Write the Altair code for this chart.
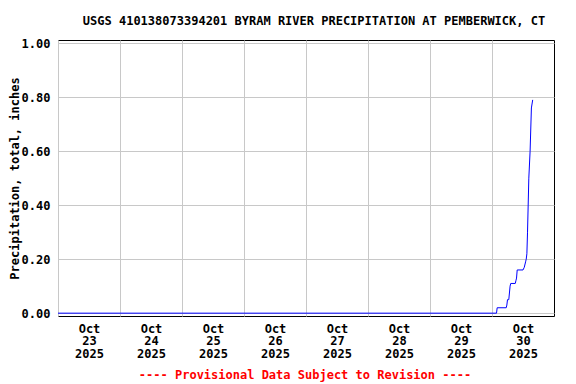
import altair as alt
import pandas as pd

times = [
    "2025-10-23T00:00:00Z", "2025-10-30T01:45:00Z", "2025-10-30T02:00:00Z",
    "2025-10-30T05:30:00Z", "2025-10-30T05:45:00Z", "2025-10-30T06:00:00Z",
    "2025-10-30T06:30:00Z", "2025-10-30T07:00:00Z", "2025-10-30T07:15:00Z",
    "2025-10-30T09:00:00Z", "2025-10-30T09:15:00Z", "2025-10-30T09:30:00Z",
    "2025-10-30T09:45:00Z", "2025-10-30T12:00:00Z", "2025-10-30T12:30:00Z",
    "2025-10-30T13:00:00Z", "2025-10-30T13:15:00Z", "2025-10-30T13:30:00Z",
    "2025-10-30T13:45:00Z", "2025-10-30T14:15:00Z", "2025-10-30T14:45:00Z",
    "2025-10-30T15:15:00Z", "2025-10-30T15:45:00Z",
]
values = [
    0.00, 0.00, 0.02,
    0.02, 0.03, 0.05,
    0.05, 0.10, 0.11,
    0.11, 0.12, 0.13,
    0.16, 0.16, 0.17,
    0.19, 0.20, 0.22,
    0.30, 0.50, 0.60,
    0.76, 0.79,
]
y_ticks = [0.0, 0.2, 0.4, 0.6, 0.8, 1.0]
day_ticks = [23, 24, 25, 26, 27, 28, 29, 30]

title_text = "USGS 410138073394201 BYRAM RIVER PRECIPITATION AT PEMBERWICK, CT"
footer_text = "---- Provisional Data Subject to Revision ----"
y_title = "Precipitation, total, inches"

df = pd.DataFrame({"t": times, "v": values})
FONT = "DejaVu Sans Mono"
FS = 12

x_enc = alt.X(
    "t:T",
    scale=alt.Scale(
        type="utc",
        domain=[alt.DateTime(year=2025, month=10, date=23, utc=True),
                alt.DateTime(year=2025, month=10, date=31, utc=True)],
    ),
    axis=alt.Axis(
        title=None,
        values=[alt.DateTime(year=2025, month=10, date=d, utc=True) for d in day_ticks],
        labelExpr="[utcFormat(datum.value, '%b'), utcFormat(datum.value, '%d'), utcFormat(datum.value, '%Y')]",
        labelOffset=31,
        labelBaseline="top",
        labelPadding=7,
        labelLineHeight=12.5,
        labelFont=FONT,
        labelFontWeight="bold",
        labelFontSize=FS,
        labelColor="black",
        ticks=False,
        domain=False,
        grid=True,
        gridColor="#c8c8c8",
        labelFlush=False,
        labelOverlap=False,
    ),
)

y_enc = alt.Y(
    "v:Q",
    scale=alt.Scale(domain=[-0.0105, 1.0117], nice=False, zero=False),
    axis=alt.Axis(
        title=y_title,
        values=y_ticks,
        format=".2f",
        labelFont=FONT,
        labelFontWeight="bold",
        labelFontSize=FS,
        labelColor="black",
        labelPadding=8,
        ticks=False,
        domain=False,
        grid=True,
        gridColor="#c8c8c8",
        titleFont=FONT,
        titleFontWeight="bold",
        titleFontSize=FS,
        titleColor="black",
        titleX=-44,
        titleY=138,
        titleAngle=270,
        titleAlign="center",
        titleBaseline="middle",
    ),
)

line = alt.Chart(df).mark_line(color="#0000ff", strokeWidth=1).encode(x=x_enc, y=y_enc)

title = alt.Chart(pd.DataFrame({"s": [title_text]})).mark_text(
    font=FONT, fontWeight="bold", fontSize=FS, color="black",
    align="center", baseline="middle",
).encode(x=alt.value(256), y=alt.value(-19), text="s:N")

footer = alt.Chart(pd.DataFrame({"s": [footer_text]})).mark_text(
    font=FONT, fontWeight="bold", fontSize=FS, color="#ff0000",
    align="center", baseline="middle",
).encode(x=alt.value(247), y=alt.value(335), text="s:N")

chart = alt.layer(line, title, footer).properties(
    width=496, height=276,
    autosize=alt.AutoSizeParams(type="none"),
    padding={"left": 50, "top": 32, "right": 10, "bottom": 68},
).configure_view(stroke="black", strokeWidth=1)

chart.save("out.html", embed_options={"renderer": "svg", "actions": False})
